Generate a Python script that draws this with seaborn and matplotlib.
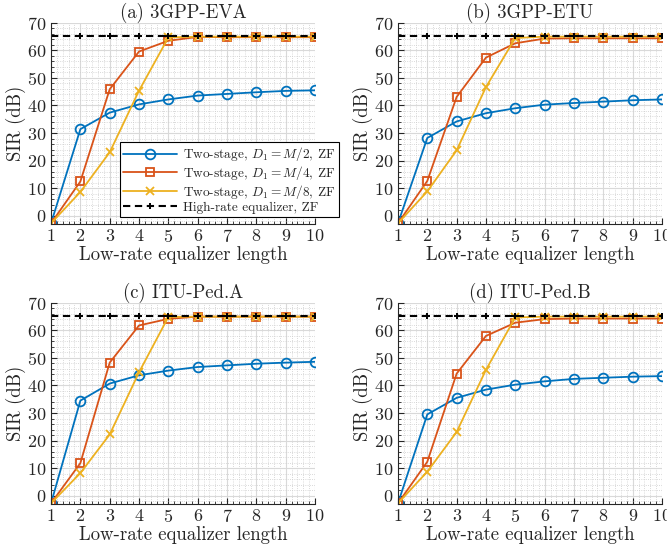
import numpy as np
import matplotlib
matplotlib.use("Agg")
import matplotlib.pyplot as plt
from matplotlib.ticker import AutoMinorLocator
import seaborn as sns

sns.set_style("ticks")
plt.rcParams['font.family'] = ['cmr10', 'DejaVu Serif']
plt.rcParams['mathtext.fontset'] = 'cm'
plt.rcParams['axes.formatter.use_mathtext'] = True
plt.rcParams['axes.unicode_minus'] = False

# MATLAB default line colours
BLUE = '#0072BD'
ORANGE = '#D95319'
YELLOW = '#EDB120'

eq_len = [1, 2, 3, 4, 5, 6, 7, 8, 9, 10]
titles = ['(a) 3GPP-EVA', '(b) 3GPP-ETU', '(c) ITU-Ped.A', '(d) ITU-Ped.B']

# SIR (dB), one list per channel model
half_eva = [-2.8, 31.4, 37.4, 40.4, 42.2, 43.6, 44.2, 44.8, 45.3, 45.5]
quarter_eva = [-2.8, 12.4, 45.9, 59.6, 63.5, 64.9, 64.8, 64.8, 64.8, 64.8]
eighth_eva = [-2.8, 8.6, 23.0, 45.4, 64.7, 65.0, 65.0, 65.0, 65.0, 65.0]

half_etu = [-2.8, 28.2, 34.2, 37.2, 39.0, 40.3, 40.9, 41.4, 41.9, 42.2]
quarter_etu = [-2.8, 12.6, 43.1, 57.4, 62.6, 64.3, 64.4, 64.4, 64.4, 64.4]
eighth_etu = [-2.8, 8.8, 23.7, 46.7, 64.5, 65.0, 65.0, 65.0, 65.0, 65.0]

half_peda = [-2.8, 34.5, 40.7, 43.7, 45.4, 46.7, 47.3, 47.9, 48.3, 48.6]
quarter_peda = [-2.8, 11.8, 48.3, 61.8, 64.2, 65.0, 65.0, 65.0, 65.0, 65.0]
eighth_peda = [-2.8, 8.2, 22.2, 44.8, 64.9, 65.0, 65.0, 65.0, 65.0, 65.0]

half_pedb = [-2.8, 29.5, 35.5, 38.5, 40.3, 41.5, 42.4, 42.8, 43.2, 43.4]
quarter_pedb = [-2.8, 12.3, 44.3, 58.0, 62.8, 64.1, 64.3, 64.3, 64.3, 64.3]
eighth_pedb = [-2.8, 8.7, 23.1, 45.7, 64.7, 65.0, 65.0, 65.0, 65.0, 65.0]

high_rate = [65.1] * 10

half = [half_eva, half_etu, half_peda, half_pedb]
quarter = [quarter_eva, quarter_etu, quarter_peda, quarter_pedb]
eighth = [eighth_eva, eighth_etu, eighth_peda, eighth_pedb]

fig, axes = plt.subplots(2, 2, figsize=(6.67, 5.58), dpi=100)
fig.subplots_adjust(left=0.0765, right=0.9925, top=0.959, bottom=0.097,
                    wspace=0.314, hspace=0.393)

for i, ax in enumerate(axes.flat):
    sns.lineplot(x=eq_len, y=half[i], ax=ax, color=BLUE, lw=1.3, marker='o',
                 markersize=7, markerfacecolor='none', markeredgecolor=BLUE,
                 markeredgewidth=1.3, label=r'Two-stage, $D_1 = M/2$, ZF')
    sns.lineplot(x=eq_len, y=quarter[i], ax=ax, color=ORANGE, lw=1.3, marker='s',
                 markersize=6, markerfacecolor='none', markeredgecolor=ORANGE,
                 markeredgewidth=1.3, label=r'Two-stage, $D_1 = M/4$, ZF')
    sns.lineplot(x=eq_len, y=eighth[i], ax=ax, color=YELLOW, lw=1.3, marker='x',
                 markersize=6, markeredgecolor=YELLOW, markeredgewidth=1.3,
                 label=r'Two-stage, $D_1 = M/8$, ZF')
    sns.lineplot(x=eq_len, y=high_rate, ax=ax, color='black', lw=1.5,
                 linestyle=(0, (3.5, 2.2)), marker='+', markersize=5,
                 markeredgecolor='black', markeredgewidth=1.4,
                 label='High-rate equalizer, ZF')

    ax.set_xlim(1, 10)
    ax.set_ylim(-3, 70)
    ax.set_xticks(range(1, 11))
    ax.set_yticks(range(0, 71, 10))
    ax.xaxis.set_minor_locator(AutoMinorLocator(5))
    ax.yaxis.set_minor_locator(AutoMinorLocator(5))
    ax.grid(which='major', color='#d9d9d9', linewidth=0.8, linestyle='-')
    ax.grid(which='minor', color='#cccccc', linewidth=0.6, linestyle=':')
    ax.set_axisbelow(True)
    ax.tick_params(which='both', direction='in', labelsize=13, top=False, right=False)
    ax.tick_params(which='major', length=4, pad=3)
    ax.tick_params(which='minor', length=2)
    for s in ['top', 'right']:
        ax.spines[s].set_visible(False)
    for s in ['left', 'bottom']:
        ax.spines[s].set_linewidth(0.8)
    ax.set_title(titles[i], fontsize=13.5, pad=2)
    ax.set_xlabel('Low-rate equalizer length', fontsize=13.5, labelpad=1)
    ax.set_ylabel('SIR (dB)', fontsize=13.5, labelpad=1)
    if i == 0:
        leg = ax.legend(loc='lower left', bbox_to_anchor=(0.261, 0.035), fontsize=9.6,
                        frameon=True, fancybox=False, edgecolor='black', framealpha=1,
                        handlelength=4.0, borderpad=0.25, labelspacing=0.05,
                        handletextpad=0.5, borderaxespad=0)
        leg.get_frame().set_linewidth(0.8)
        leg.set_zorder(10)
    else:
        ax.get_legend().remove()

fig.savefig('out.png', dpi=100)
